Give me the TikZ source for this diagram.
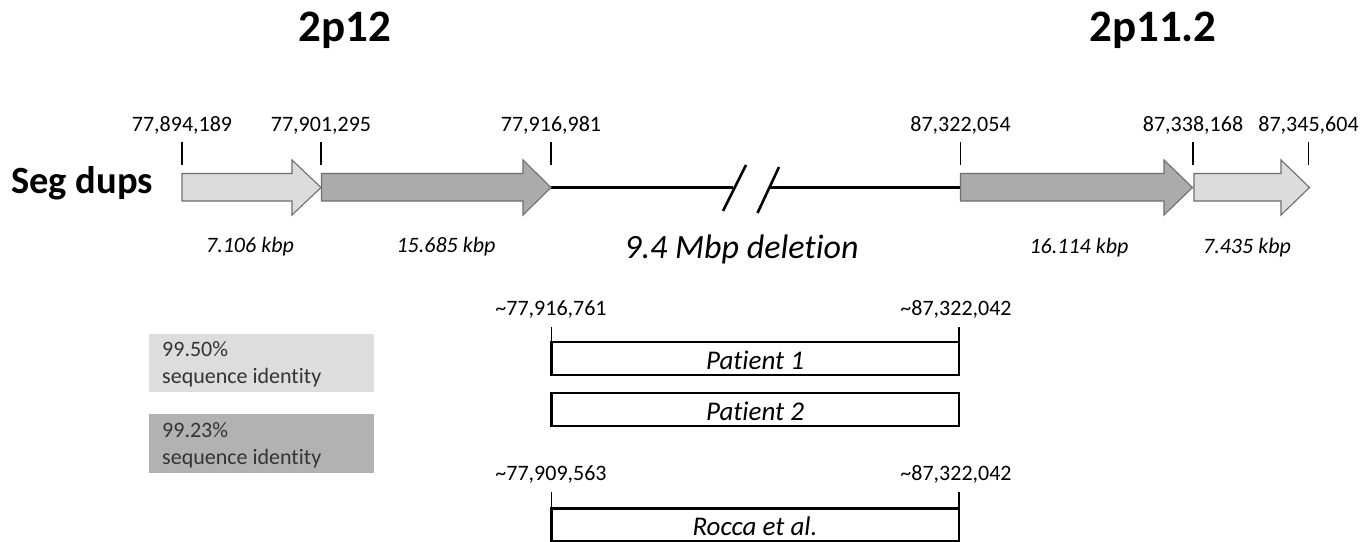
\documentclass[tikz,border=0pt]{standalone}
\usepackage{fontspec}
\setmainfont{Carlito}[Ligatures=NoCommon]
\definecolor{segLight}{HTML}{DCDCDC}
\definecolor{segDark}{HTML}{ABABAB}
\definecolor{segEdge}{HTML}{6E6E6E}
\definecolor{legLight}{HTML}{DDDDDD}
\definecolor{legDark}{HTML}{B2B2B2}
\definecolor{legText}{HTML}{333333}
\begin{document}
\begin{tikzpicture}[x=1pt,y=-1pt,
  txt/.style={inner sep=0pt,anchor=base,font=\fontsize{22}{27}\selectfont},
  itxt/.style={txt,font=\fontsize{22}{27}\selectfont\itshape},
  boxtxt/.style={txt,font=\fontsize{27}{30}\selectfont\itshape},
  title/.style={inner sep=0pt,anchor=base,font=\fontsize{45}{50}\selectfont\bfseries},
  lightseg/.style={fill=segLight,draw=segEdge,line width=1.1pt,line join=miter},
  darkseg/.style={fill=segDark,draw=segEdge,line width=1.1pt,line join=miter},
  tick/.style={draw=black,line width=1.1pt},
  chrom/.style={draw=black,line width=3pt},
  brk/.style={draw=black,line width=2.6pt},
  delbox/.style={draw=black,line width=2.5pt,fill=white},
  legtxt/.style={inner sep=0pt,anchor=base west,text=legText,font=\fontsize{22}{27}\selectfont}
]
\useasboundingbox (0,0) rectangle (1372,541);
\fill[white] (0,0) rectangle (1372,541);

% titles
\node[title] (t1) at (345,41.7) {2p12};
\node[title] (t2) at (1153,41.7) {2p11.2};
\node[inner sep=0pt,anchor=base west,font=\fontsize{38.5}{42}\selectfont\bfseries] (segdups) at (11,193.3) {Seg dups};

% chromosome line with break
\coordinate (c0) at (551,187.5);
\coordinate (c1) at (733,187.5);
\coordinate (c2) at (770,187.5);
\coordinate (c3) at (961,187.5);
\draw[chrom] (c0) -- (c1);
\draw[chrom] (c2) -- (c3);
\coordinate (b1a) at (723,211); \coordinate (b1b) at (746,165);
\coordinate (b2a) at (757.5,213); \coordinate (b2b) at (779,167);
\draw[brk] (b1a) -- (b1b);
\draw[brk] (b2a) -- (b2b);

% segmental duplication arrows
\draw[lightseg] (182,173.5) -- (292,173.5) -- (292,160) -- (321,187.5) -- (292,215) -- (292,201) -- (182,201) -- cycle;
\draw[darkseg] (321.5,173.5) -- (523,173.5) -- (523,160) -- (551,187.5) -- (523,215) -- (523,201) -- (321.5,201) -- cycle;
\draw[darkseg] (960.5,173.5) -- (1164,173.5) -- (1164,160) -- (1192.5,187.5) -- (1164,215) -- (1164,201) -- (960.5,201) -- cycle;
\draw[lightseg] (1194,173.5) -- (1281,173.5) -- (1281,160) -- (1309.5,187.5) -- (1281,215) -- (1281,201) -- (1194,201) -- cycle;

% ticks and coordinates
\foreach \x/\lab/\nm in {182/{77,894,189}/p1, 321/{77,901,295}/p2, 551/{77,916,981}/p3,
                         960.5/{87,322,054}/p4, 1193/{87,338,168}/p5, 1308.5/{87,345,604}/p6} {
  \node[txt] (\nm) at (\x,131.5) {\lab};
  \draw[tick] (\x,142) -- (\x,165);
}

% sizes
\node[itxt] (s1) at (250,252.5) {7.106 kbp};
\node[itxt] (s2) at (446,252.5) {15.685 kbp};
\node[inner sep=0pt,anchor=base,font=\fontsize{34}{38}\selectfont\itshape] (del) at (741.5,258.3) {9.4 Mbp deletion};
\node[itxt] (s3) at (1079,253.5) {16.114 kbp};
\node[itxt] (s4) at (1247,253.5) {7.435 kbp};

% legend
\fill[legLight] (149,334) rectangle (374,391.5);
\fill[legDark] (149,414) rectangle (374,473);
\node[legtxt] (l1a) at (162,356.5) {99.50\%};
\node[legtxt] (l1b) at (162,383) {sequence identity};
\node[legtxt] (l2a) at (162,437.5) {99.23\%};
\node[legtxt] (l2b) at (162,464.5) {sequence identity};

% deletions
\node[txt] (d1l) at (551,315) {\textasciitilde77,916,761};
\node[txt] (d1r) at (956,315) {\textasciitilde87,322,042};
\draw[tick] (551.5,327) -- (551.5,342);
\draw[tick] (959,327) -- (959,342);
\draw[delbox] (551.5,342) rectangle (959,375);
\node[boxtxt] (pt1) at (755,369.5) {Patient 1};
\draw[delbox] (551.5,393) rectangle (959,426);
\node[boxtxt] (pt2) at (755,420) {Patient 2};

\node[txt] (d2l) at (551,480) {\textasciitilde77,909,563};
\node[txt] (d2r) at (956,480) {\textasciitilde87,322,042};
\draw[tick] (551.5,492) -- (551.5,508.5);
\draw[tick] (959,492) -- (959,508.5);
\draw[delbox] (551.5,508.5) rectangle (959,541.5);
\node[boxtxt] (rocca) at (755,535) {Rocca et al.};
\end{tikzpicture}
\end{document}
